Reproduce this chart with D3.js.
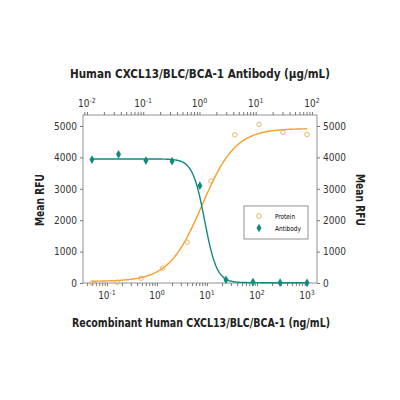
<!DOCTYPE html><html><head><script src="https://cdn.jsdelivr.net/npm/d3@7"></script>
<style>body{margin:0;background:#fff}text{font-family:"Liberation Sans Narrow","DejaVu Sans Condensed","Liberation Sans",sans-serif}</style></head><body><svg id="c" width="400" height="400"></svg><script>
const proteinX=[0.05,0.16,0.48,1.3,4,12,36,110,330,1000];
const proteinY=[0,20,150,470,1300,3250,4720,5050,4800,4730];
const antibodyX=[0.05,0.17,0.6,2,7.2,24,83,290,1000];
const antibodyY=[3930,4100,3900,3880,3100,100,30,10,5];
const yTicks=[0,1000,2000,3000,4000,5000];
const bottomTicks=[0.1,1,10,100,1000];
const topTicks=[0.01,0.1,1,10,100];
const proteinFit={bottom:50,top:4920,ec50:8,hill:1.3};
const antibodyFit={bottom:10,top:3950,ec50:9,hill:3.6};
const svg=d3.select("#c");
const L=83,R=317,T=115,B=283;
const x=d3.scaleLog().domain([10**-1.48,10**3.2]).range([L,R]);
const xt=d3.scaleLog().domain([10**-2.07,10**2.09]).range([L,R]);
const y=d3.scaleLinear().domain([0,5000]).range([B,126]);
const orange="#f5a02a",teal="#12897d";
svg.append("rect").attr("x",L).attr("y",T).attr("width",R-L).attr("height",B-T).attr("fill","none").attr("stroke","#777").attr("stroke-width",0.8);
function lab(g,d){const e=Math.round(Math.log10(d));const t=g.append("text");t.append("tspan").text("10");t.append("tspan").attr("dy",-4).attr("font-size",7).text(e);return t;}
function axisStyle(g){g.selectAll("path,line").attr("stroke","#777");g.selectAll("text").remove();}
const gb=svg.append("g").attr("transform",`translate(0,${B})`).call(d3.axisBottom(x).tickSizeOuter(0).tickSize(3)).call(axisStyle);
gb.select(".domain").remove();
const gt=svg.append("g").attr("transform",`translate(0,${T})`).call(d3.axisTop(xt).tickSizeOuter(0).tickSize(3)).call(axisStyle);
gt.select(".domain").remove();
bottomTicks.forEach(d=>{lab(svg,d).attr("x",x(d)).attr("y",B+16).attr("text-anchor","middle").attr("font-size",10).attr("fill","#333");});
topTicks.forEach(d=>{lab(svg,d).attr("x",xt(d)).attr("y",T-8).attr("text-anchor","middle").attr("font-size",10).attr("fill","#333");});
const gl=svg.append("g").attr("transform",`translate(${L},0)`).call(d3.axisLeft(y).tickValues(yTicks).tickSize(3).tickFormat(d3.format("d")));
const gr=svg.append("g").attr("transform",`translate(${R},0)`).call(d3.axisRight(y).tickValues(yTicks).tickSize(3).tickFormat(d3.format("d")));
[gl,gr].forEach(g=>{g.select(".domain").remove();g.selectAll("line").attr("stroke","#777");g.selectAll("text").attr("font-size",10).attr("fill","#333").attr("font-family","'Liberation Sans Narrow',sans-serif");});
function fit(p,v){return p.bottom+(p.top-p.bottom)/(1+Math.pow(p.ec50/v,p.hill));}
function fitDown(p,v){return p.bottom+(p.top-p.bottom)/(1+Math.pow(v/p.ec50,p.hill));}
const xs=d3.range(0,201).map(i=>10**(Math.log10(0.05)+i/200*(3-Math.log10(0.05))));
const line=d3.line().x(d=>x(d[0])).y(d=>y(d[1]));
svg.append("path").attr("d",line(xs.map(v=>[v,fit(proteinFit,v)]))).attr("fill","none").attr("stroke",orange).attr("stroke-width",1.4);
svg.append("path").attr("d",line(xs.map(v=>[v,fitDown(antibodyFit,v)]))).attr("fill","none").attr("stroke",teal).attr("stroke-width",1.4);
svg.selectAll(".p").data(proteinX).enter().append("circle").attr("cx",d=>x(d)).attr("cy",(d,i)=>y(proteinY[i])).attr("r",2.3).attr("fill","none").attr("stroke","#e0b060").attr("stroke-width",0.9);
const dia=d3.symbol().type(d3.symbolDiamond).size(22);
svg.selectAll(".a").data(antibodyX).enter().append("path").attr("d",dia).attr("transform",(d,i)=>`translate(${x(d)},${y(antibodyY[i])})`).attr("fill",teal);
svg.append("rect").attr("x",244).attr("y",206).attr("width",64).attr("height",33).attr("fill","#fff").attr("stroke","#777").attr("stroke-width",0.8);
svg.append("circle").attr("cx",259).attr("cy",216).attr("r",2.3).attr("fill","none").attr("stroke","#e0b060");
svg.append("path").attr("d",dia).attr("transform","translate(259,228)").attr("fill",teal);
svg.append("text").attr("x",275).attr("y",219).attr("font-size",7).attr("textLength",20).attr("lengthAdjust","spacingAndGlyphs").text("Protein");
svg.append("text").attr("x",275).attr("y",231).attr("font-size",7).attr("textLength",26).attr("lengthAdjust","spacingAndGlyphs").text("Antibody");
svg.append("text").attr("x",70).attr("y",78).attr("font-size",12.5).attr("font-weight","bold").attr("fill","#222").attr("textLength",260).attr("lengthAdjust","spacingAndGlyphs").text("Human CXCL13/BLC/BCA-1 Antibody (μg/mL)");
svg.append("text").attr("x",72).attr("y",327).attr("font-size",12.5).attr("font-weight","bold").attr("fill","#222").attr("textLength",258).attr("lengthAdjust","spacingAndGlyphs").text("Recombinant Human CXCL13/BLC/BCA-1 (ng/mL)");
svg.append("text").attr("transform","translate(44,200) rotate(-90)").attr("text-anchor","middle").attr("font-size",12).attr("font-weight","bold").attr("fill","#222").attr("textLength",52).attr("lengthAdjust","spacingAndGlyphs").text("Mean RFU");
svg.append("text").attr("transform","translate(356,200) rotate(90)").attr("text-anchor","middle").attr("font-size",12).attr("font-weight","bold").attr("fill","#222").attr("textLength",52).attr("lengthAdjust","spacingAndGlyphs").text("Mean RFU");
</script></body></html>
